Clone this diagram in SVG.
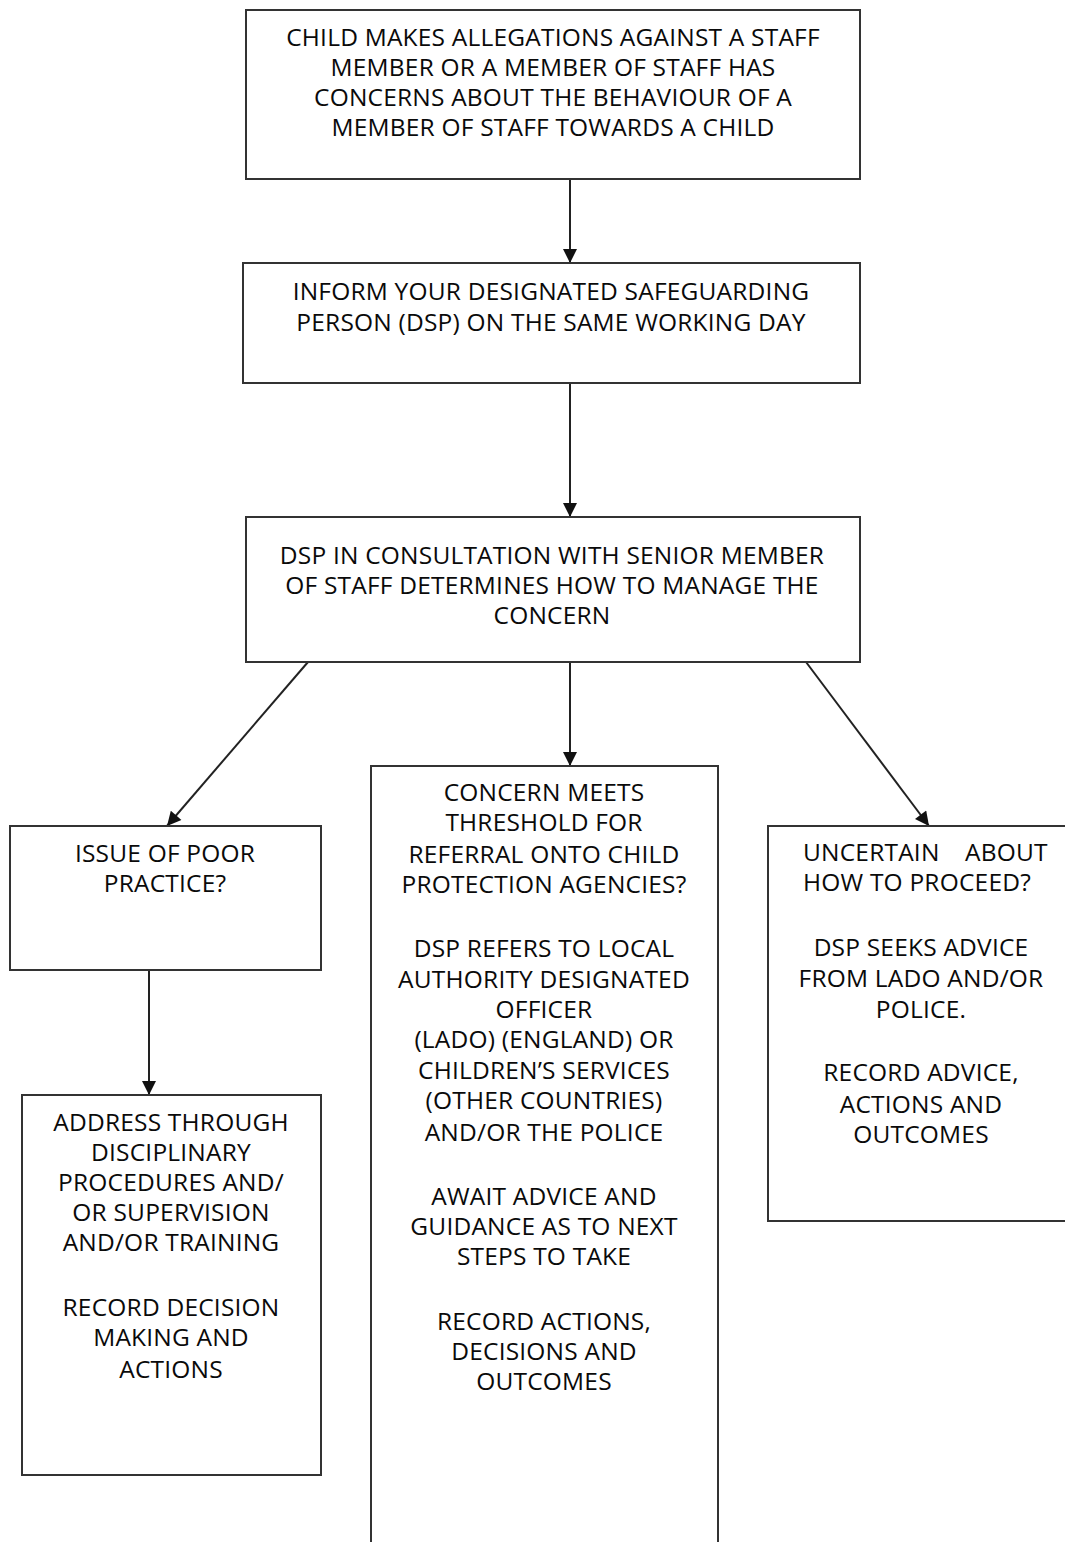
<svg xmlns="http://www.w3.org/2000/svg" width="1065" height="1542" viewBox="0 0 1065 1542">
<defs>
<style>
.box{fill:#fff;stroke:#333;stroke-width:2}
.t{font-family:"Open Sans","Noto Sans",sans-serif;font-size:24.5px;letter-spacing:0.2px;fill:#0a0a0a;text-anchor:middle}
.c{stroke:#222;stroke-width:2;fill:none;marker-end:url(#ah)}
</style>
<marker id="ah" viewBox="0 0 10 10" refX="10" refY="5" markerWidth="16" markerHeight="14" markerUnits="userSpaceOnUse" orient="auto">
<path d="M0,0 L10,5 L0,10 z" fill="#111"/>
</marker>
</defs>
<rect width="1065" height="1542" fill="#fff"/>
<g id="connectors">
<path d="M570,179 V263" class="c"/>
<path d="M570,383 V517" class="c"/>
<path d="M570,662 V766" class="c"/>
<path d="M308,662 L167,826" class="c"/>
<path d="M806,662 L929,826" class="c"/>
<path d="M149,970 V1095" class="c"/>
</g>
<g id="n1">
<rect class="box" x="246" y="10" width="614" height="169"/>
<text class="t" x="553" y="46">CHILD MAKES ALLEGATIONS AGAINST A STAFF</text>
<text class="t" x="553" y="76">MEMBER OR A MEMBER OF STAFF HAS</text>
<text class="t" x="553" y="106">CONCERNS ABOUT THE BEHAVIOUR OF A</text>
<text class="t" x="553" y="136">MEMBER OF STAFF TOWARDS A CHILD</text>
</g>
<g id="n2">
<rect class="box" x="243" y="263" width="617" height="120"/>
<text class="t" x="551" y="300">INFORM YOUR DESIGNATED SAFEGUARDING</text>
<text class="t" x="551" y="331">PERSON (DSP) ON THE SAME WORKING DAY</text>
</g>
<g id="n3">
<rect class="box" x="246" y="517" width="614" height="145"/>
<text class="t" x="552" y="564">DSP IN CONSULTATION WITH SENIOR MEMBER</text>
<text class="t" x="552" y="594">OF STAFF DETERMINES HOW TO MANAGE THE</text>
<text class="t" x="552" y="624">CONCERN</text>
</g>
<g id="n4">
<rect class="box" x="10" y="826" width="311" height="144"/>
<text class="t" x="165" y="862">ISSUE OF POOR</text>
<text class="t" x="165" y="892">PRACTICE?</text>
</g>
<g id="n5">
<rect class="box" x="22" y="1095" width="299" height="380"/>
<text class="t" x="171" y="1131">ADDRESS THROUGH</text>
<text class="t" x="171" y="1161">DISCIPLINARY</text>
<text class="t" x="171" y="1191">PROCEDURES AND/</text>
<text class="t" x="171" y="1221">OR SUPERVISION</text>
<text class="t" x="171" y="1251">AND/OR TRAINING</text>
<text class="t" x="171" y="1316">RECORD DECISION</text>
<text class="t" x="171" y="1346">MAKING AND</text>
<text class="t" x="171" y="1378">ACTIONS</text>
</g>
<g id="n6">
<path class="box" d="M371,1543 V766 H718 V1543"/>
<text class="t" x="544" y="801">CONCERN MEETS</text>
<text class="t" x="544" y="831">THRESHOLD FOR</text>
<text class="t" x="544" y="863">REFERRAL ONTO CHILD</text>
<text class="t" x="544" y="893">PROTECTION AGENCIES?</text>
<text class="t" x="544" y="957">DSP REFERS TO LOCAL</text>
<text class="t" x="544" y="988">AUTHORITY DESIGNATED</text>
<text class="t" x="544" y="1018">OFFICER</text>
<text class="t" x="544" y="1048">(LADO) (ENGLAND) OR</text>
<text class="t" x="544" y="1079">CHILDREN’S SERVICES</text>
<text class="t" x="544" y="1109">(OTHER COUNTRIES)</text>
<text class="t" x="544" y="1141">AND/OR THE POLICE</text>
<text class="t" x="544" y="1205">AWAIT ADVICE AND</text>
<text class="t" x="544" y="1235">GUIDANCE AS TO NEXT</text>
<text class="t" x="544" y="1265">STEPS TO TAKE</text>
<text class="t" x="544" y="1330">RECORD ACTIONS,</text>
<text class="t" x="544" y="1360">DECISIONS AND</text>
<text class="t" x="544" y="1390">OUTCOMES</text>
</g>
<g id="n7">
<path class="box" d="M1066,826 H768 V1221 H1066"/>
<text class="t" style="text-anchor:start" x="803" y="861">UNCERTAIN<tspan x="965">ABOUT</tspan></text>
<text class="t" style="text-anchor:start" x="803" y="891">HOW TO PROCEED?</text>
<text class="t" x="921" y="956">DSP SEEKS ADVICE</text>
<text class="t" x="921" y="987">FROM LADO AND/OR</text>
<text class="t" x="921" y="1018">POLICE.</text>
<text class="t" x="921" y="1081">RECORD ADVICE,</text>
<text class="t" x="921" y="1113">ACTIONS AND</text>
<text class="t" x="921" y="1143">OUTCOMES</text>
</g>
</svg>
